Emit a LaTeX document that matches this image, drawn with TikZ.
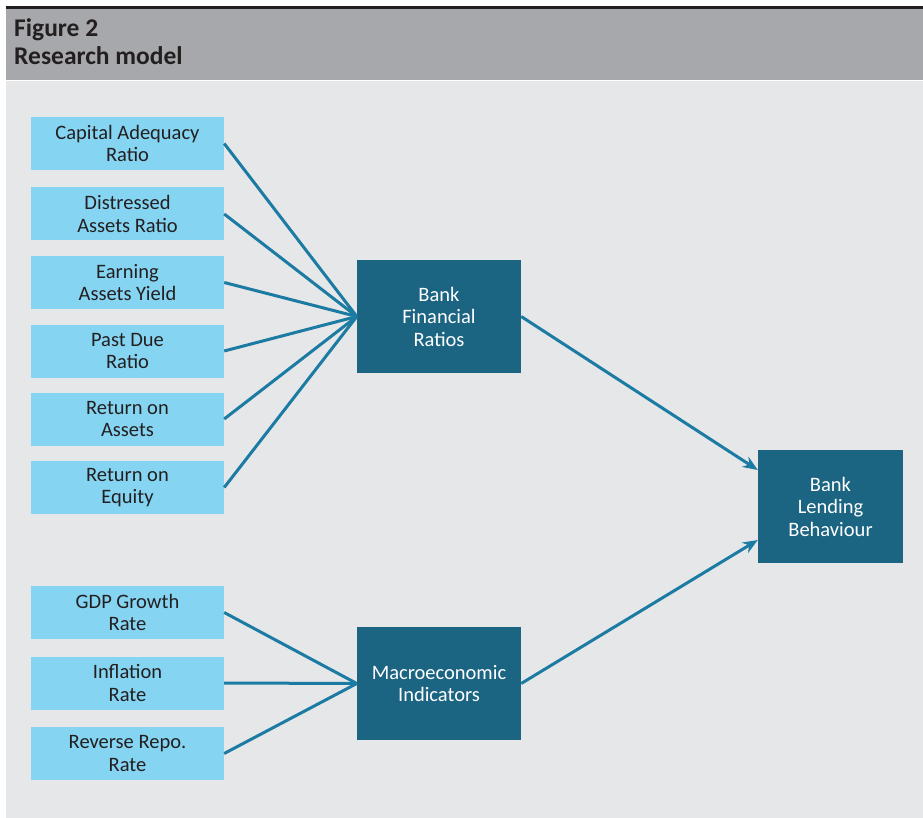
\documentclass[tikz,border=0pt]{standalone}
\usepackage{fontspec}
\setmainfont{Carlito}
\usetikzlibrary{arrows.meta}
\definecolor{bodybg}{HTML}{E6E7E9}
\definecolor{headbg}{HTML}{A7A8AB}
\definecolor{topline}{HTML}{231F20}
\definecolor{lightbox}{HTML}{85D4F1}
\definecolor{darkbox}{HTML}{1B6482}
\definecolor{linkcol}{HTML}{1B7BA2}
\definecolor{txtdark}{HTML}{231F20}
\tikzset{
  inbox/.style={fill=lightbox, draw=none, minimum width=193pt, minimum height=53pt,
    align=center, text=txtdark, font=\fontsize{20.5}{22.5}\selectfont, inner sep=0pt},
  midbox/.style={fill=darkbox, draw=none, minimum width=164pt, minimum height=113pt,
    align=center, text=white, font=\fontsize{20.5}{22.5}\selectfont, inner sep=0pt},
  outbox/.style={fill=darkbox, draw=none, minimum width=145pt, minimum height=113pt,
    align=center, text=white, font=\fontsize{20.5}{22.5}\selectfont, inner sep=0pt},
  link/.style={draw=linkcol, line width=3pt},
  arrowlink/.style={link, -{Stealth[length=15pt,width=12pt]}},
  titletext/.style={anchor=base west, inner sep=0pt, text=txtdark, font=\fontsize{25.5}{28}\selectfont\bfseries}
}
\begin{document}
\begin{tikzpicture}[x=1pt,y=-1pt]
\path[use as bounding box, fill=white] (0,0) rectangle (923,818);
\fill[bodybg] (6,81) rectangle (923,818);
\fill[headbg] (6,9) rectangle (923,80);
\fill[topline] (6,6.5) rectangle (923,9.5);
\node[titletext] (t1) at (14,37) {Figure 2};
\node[titletext] (t2) at (14,65) {Research model};

\node[inbox] (car) at (127.5,143.5) {Capital Adequacy\\Ratio};
\node[inbox] (dar) at (127.5,214) {Distressed\\Assets Ratio};
\node[inbox] (eay) at (127.5,282.5) {Earning\\Assets Yield};
\node[inbox] (pdr) at (127.5,351) {Past Due\\Ratio};
\node[inbox] (roa) at (127.5,419) {Return on\\Assets};
\node[inbox] (roe) at (127.5,487.5) {Return on\\Equity};
\node[inbox] (gdp) at (127.5,612.5) {GDP Growth\\Rate};
\node[inbox] (inf) at (127.5,683) {Inflation\\Rate};
\node[inbox] (rrr) at (127.5,753.5) {Reverse Repo.\\Rate};

\node[midbox] (bfr) at (439,316.5) {Bank\\Financial\\Ratios};
\node[midbox] (mac) at (439,683.5) {Macroeconomic\\Indicators};
\node[outbox] (blb) at (830.5,506.5) {Bank\\Lending\\Behaviour};

\foreach \n in {car,dar,eay,pdr,roa,roe}{
  \draw[link] (\n.east) -- (bfr.west);
}
\foreach \n in {gdp,inf,rrr}{
  \draw[link] (\n.east) -- (mac.west);
}
\draw[arrowlink] (bfr.east) -- ([yshift=36.5pt]blb.west);
\draw[arrowlink] (mac.east) -- ([yshift=-33.5pt]blb.west);
\end{tikzpicture}
\end{document}
